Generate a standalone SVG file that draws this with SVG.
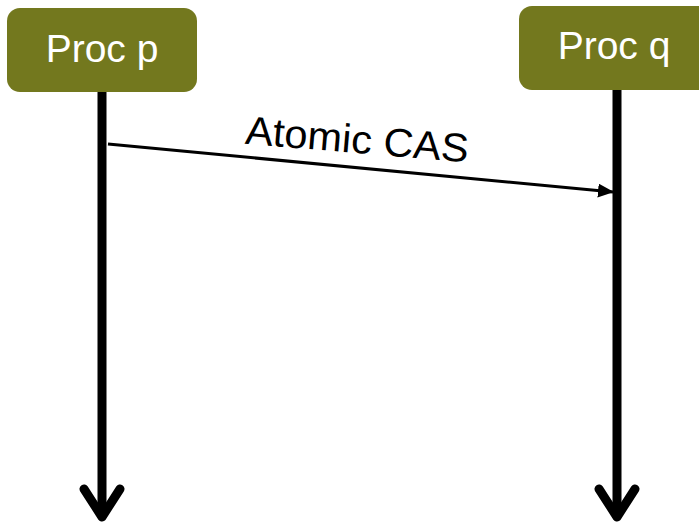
<svg xmlns="http://www.w3.org/2000/svg" width="699" height="524" viewBox="0 0 699 524">
<style>
.box{fill:#73781E;}
.lbl{font-family:"Liberation Sans",Arial,sans-serif;font-size:39px;fill:#ffffff;text-anchor:middle;}
.life{stroke:#000;stroke-width:9;fill:none;stroke-linecap:round;stroke-linejoin:round;}
.msg{stroke:#000;stroke-width:3;fill:none;}
.mlbl{font-family:"Liberation Sans",Arial,sans-serif;font-size:40px;fill:#000;text-anchor:middle;}
</style>
<defs>
<marker id="ah" markerWidth="16" markerHeight="14" refX="15" refY="7" orient="auto" markerUnits="userSpaceOnUse">
<path d="M0,0 L16,7 L0,14 Z" fill="#000"/>
</marker>
</defs>
<g id="connectors">
<path class="life" d="M102,92 V516"/>
<path class="life" d="M84,489 L102,517 L120,489"/>
<path class="life" d="M617,90 V516"/>
<path class="life" d="M599,489 L617,517 L635,489"/>
<line class="msg" x1="108" y1="144" x2="613" y2="192" marker-end="url(#ah)"/>
<text class="mlbl" x="356" y="153" textLength="224" lengthAdjust="spacingAndGlyphs" transform="rotate(4.8 356 153)">Atomic CAS</text>
</g>
<g id="proc-p">
<rect class="box" x="7" y="8" width="190" height="84" rx="13"/>
<text class="lbl" x="102" y="62">Proc p</text>
</g>
<g id="proc-q">
<rect class="box" x="519" y="6" width="196" height="84" rx="13"/>
<text class="lbl" x="614" y="59">Proc q</text>
</g>
</svg>
